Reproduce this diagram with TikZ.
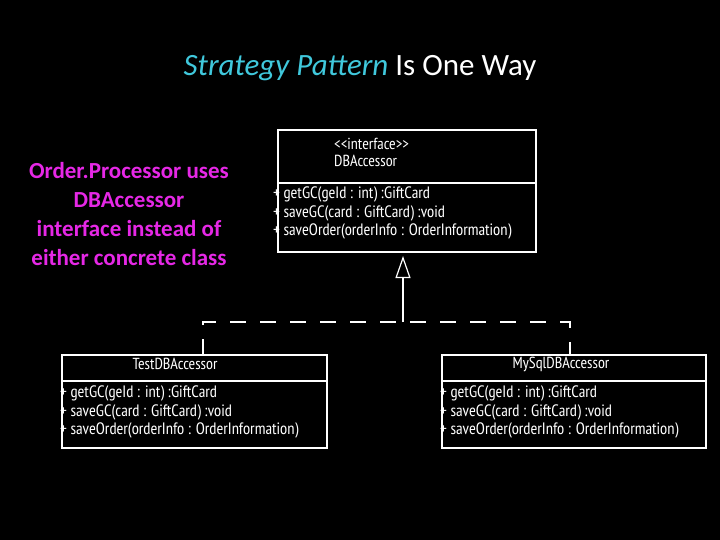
\documentclass[tikz,border=0pt]{standalone}
\usepackage{fontspec}
\setmainfont{Carlito}
\newfontfamily\hand{PT Sans Narrow}
\usetikzlibrary{arrows.meta}
\definecolor{cy}{RGB}{64,200,220}
\definecolor{mg}{RGB}{230,40,230}
\begin{document}
\begin{tikzpicture}[x=1pt,y=-1pt,
 box/.style={draw=white,line width=1.2pt},
 mem/.style={text=white,font=\hand\fontsize{16.5}{18.5}\selectfont,align=left,anchor=north west,inner sep=0pt},
 ttl/.style={text=white,font=\hand\fontsize{16}{17}\selectfont,align=left,inner sep=0pt},
 dep/.style={draw=white,line width=1.2pt,dash pattern=on 16pt off 14pt}]
\fill[black] (0,0) rectangle (720,540);
\useasboundingbox (0,0) rectangle (720,540);
\node (title) at (360,68) {\fontsize{31}{34}\selectfont\textcolor{cy}{\itshape Strategy Pattern}\textcolor{white}{\ Is One Way}};
\node (note) [text=mg,font=\bfseries\fontsize{23}{29.3}\selectfont,align=center] at (129,214) {Order.Processor uses\\DBAccessor\\interface instead of\\either concrete class};
% interface
\draw[box] (278,130) rectangle (536,252);
\draw[box] (278,183) -- (536,183);
\node (ifn) [ttl,anchor=west] at (334,152) {\textless\textless interface\textgreater\textgreater\\DBAccessor};
\node (ifm) [mem] at (273,187) {+ getGC(geId : int) :GiftCard\\+ saveGC(card : GiftCard) :void\\+ saveOrder(orderInfo : OrderInformation)};
\coordinate (tip) at (403,256);
% test
\draw[box] (62,355) rectangle (327,448);
\draw[box] (62,381) -- (327,381);
\node (tn) [ttl] at (175,364) {TestDBAccessor};
\node (tm) [mem] at (60,386) {+ getGC(geId : int) :GiftCard\\+ saveGC(card : GiftCard) :void\\+ saveOrder(orderInfo : OrderInformation)};
% mysql
\draw[box] (442,355) rectangle (706,448);
\draw[box] (442,381) -- (706,381);
\node (mn) [ttl] at (561,364) {MySqlDBAccessor};
\node (mm) [mem] at (440,386) {+ getGC(geId : int) :GiftCard\\+ saveGC(card : GiftCard) :void\\+ saveOrder(orderInfo : OrderInformation)};
\coordinate (t1) at (203,355);
\coordinate (m1) at (570,355);
\coordinate (c1) at (203,322);
\coordinate (c2) at (570,322);
\coordinate (cm) at (403,322);
\draw[dep] (t1) -- (c1) -- (c2) -- (m1);
\draw[white,line width=1.2pt,-{Triangle[open,length=22pt,width=15pt]}] (cm) -- (tip);
\end{tikzpicture}
\end{document}
